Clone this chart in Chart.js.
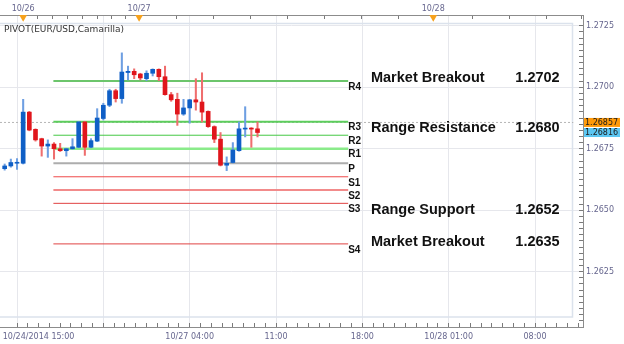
<!DOCTYPE html>
<html><head><meta charset="utf-8">
<script src="https://cdn.jsdelivr.net/npm/chart.js@4/dist/chart.umd.min.js"></script>
<style>html,body{margin:0;padding:0;background:#fff}canvas{display:block}</style>
</head><body>
<canvas id="c" width="624" height="344"></canvas>
<script>
// ---- data ----
const candleIdx = [0,1,2,3,4,5,6,7,8,9,10,11,12,13,14,15,16,17,18,19,20,21,22,23,24,25,26,27,28,29,30,31,32,33,34,35,36,37,38,39,40,41];
const opens  = [1.26669,1.26680,1.26691,1.26691,1.26899,1.26829,1.26791,1.26761,1.26769,1.26750,1.26742,1.26750,1.26756,1.26859,1.26756,1.26781,1.26873,1.26927,1.26986,1.26954,1.27060,1.27065,1.27054,1.27035,1.27057,1.27073,1.27043,1.26970,1.26951,1.26891,1.26916,1.26949,1.26940,1.26902,1.26840,1.26789,1.26683,1.26694,1.26742,1.26830,1.26834,1.26831];
const highs  = [1.26688,1.26708,1.26710,1.26951,1.26902,1.26831,1.26793,1.26786,1.26775,1.26772,1.26752,1.26791,1.26861,1.26861,1.26791,1.26913,1.26935,1.26992,1.26992,1.27140,1.27086,1.27075,1.27057,1.27067,1.27075,1.27075,1.27086,1.26979,1.26976,1.26951,1.26951,1.27035,1.27059,1.26904,1.26843,1.26816,1.26717,1.26775,1.26859,1.26921,1.26836,1.26859];
const lows   = [1.26663,1.26675,1.26666,1.26688,1.26823,1.26781,1.26720,1.26715,1.26708,1.26739,1.26720,1.26748,1.26754,1.26723,1.26754,1.26779,1.26867,1.26921,1.26940,1.26935,1.27030,1.27035,1.27030,1.27027,1.27046,1.27027,1.26968,1.26943,1.26845,1.26886,1.26854,1.26907,1.26859,1.26837,1.26775,1.26680,1.26661,1.26692,1.26740,1.26798,1.26756,1.26798];
const closes = [1.26680,1.26694,1.26694,1.26899,1.26826,1.26786,1.26761,1.26769,1.26750,1.26742,1.26750,1.26758,1.26859,1.26756,1.26783,1.26875,1.26927,1.26986,1.26954,1.27062,1.27065,1.27051,1.27038,1.27057,1.27073,1.27043,1.26970,1.26949,1.26891,1.26916,1.26949,1.26940,1.26899,1.26840,1.26789,1.26683,1.26691,1.26745,1.26831,1.26834,1.26830,1.26816];

const pivotNames  = ['R4','R3','R2','R1','P','S1','S2','S3','S4'];
const pivotLevels = [1.27026,1.26860,1.26805,1.26750,1.26691,1.26636,1.26582,1.26528,1.26363];
const pivotStart = 7.9, pivotEnd = 55.7;

const noteTexts  = ['Market Breakout','Range Resistance','Range Support','Market Breakout'];
const noteValues = ['1.2702','1.2680','1.2652','1.2635'];
const noteLevels = [1.27038,1.26836,1.26501,1.26369];
const noteStart = 59.4, noteEnd = 90.0;

const tagValues = [1.26857, 1.26816];
const tagTexts  = ['1.26857','1.26816'];
const lastPriceLine = 1.26857;

const yLabelValues = [1.2625,1.2650,1.2675,1.2700,1.2725];
const yLabelTexts  = ['1.2625','1.2650','1.2675','1.2700','1.2725'];
const bottomGridIdx   = [2,16,30,44,58,72,86];
const bottomLabelIdx  = [5.5,30,44,58,72,86];
const bottomLabelText = ['10/24/2014 15:00','10/27 04:00','11:00','18:00','10/28 01:00','08:00'];
const topTickIdx   = [3,5.4,7.8,10.2,12.6,15,17.4,19.6,21.8,27.8,33.8,39.8,45.8,51.8,57.8,63.8,69.5,75.8,81.8,87.8,93.6];
const topLabelIdx  = [3,21.8,69.5];
const topLabelText = ['10/26','10/27','10/28'];
const markerLevel = 1.27285;
const titleText = 'PIVOT(EUR/USD,Camarilla)';

// ---- styles ----
const X_MIN = -0.757, X_MAX = 93.78, Y_MIN = 1.26025, Y_MAX = 1.27294;
const UP = '#0f5fc6', DOWN = '#e0161c', UP_W = '#6e9fe2', DOWN_W = '#ef6e6e';
const GRID = '#e6e7ec', TICK = '#7a7a7a', AXIS = '#8c8c8c', LBL = '#66668e';
const pivotColors = ['#6cc56c','#5ccd5c','#45c845','#8aeb8a','#adadad','#ef4a4a','#f28b8b','#e04242','#e04242'];
const pivotWidths = [2,2,1,2.5,2,1,2,1,1];
const FONT = '"DejaVu Sans", Verdana, sans-serif';

const bodyColors = opens.map((o,i) => closes[i] >= o ? UP : DOWN);
const wickColors = opens.map((o,i) => closes[i] >= o ? UP_W : DOWN_W);
const near = (a,b) => Math.abs(a-b) < 1e-6;
const findLabel = (v, vals, texts) => { const k = vals.findIndex(t => near(t, v)); return k >= 0 ? texts[k] : ''; };

const datasets = [
  { type:'bar', data: candleIdx.map((x,i)=>({x, y:[opens[i], closes[i]]})), backgroundColor: bodyColors,
    barThickness: 4, minBarLength: 1, grouped: false, order: 0, borderWidth: 0 },
  { type:'bar', data: candleIdx.map((x,i)=>({x, y:[lows[i], highs[i]]})), backgroundColor: wickColors,
    barThickness: 1.4, grouped: false, order: 1, borderWidth: 0 },
  { type:'line', data: [{x:X_MIN, y:lastPriceLine},{x:92.2, y:lastPriceLine}], borderColor:'#b5b5b5',
    borderWidth: 1, borderDash:[2,2], pointRadius: 0, order: 3 },
  ...pivotLevels.map((lv,i) => ({ type:'line', data:[{x:pivotStart,y:lv},{x:pivotEnd,y:lv}],
    borderColor: pivotColors[i], borderWidth: pivotWidths[i], pointRadius: 0, order: 2 })),
  { type:'line', showLine:false, data: topLabelIdx.map(x => ({x, y:markerLevel})), pointStyle:'triangle',
    rotation:180, pointRadius:4.5, backgroundColor:'#f6a11c', borderWidth:0, clip:false, order:0 }
];

const overlay = {
  id:'overlay',
  beforeDatasetsDraw(chart){
    const {ctx, chartArea:a} = chart;
    ctx.save();
    ctx.strokeStyle = '#dbe2ec'; ctx.lineWidth = 1.5;
    ctx.strokeRect(a.left - 2, a.top + 8.5, (a.right - 10.5) - (a.left - 2), (a.bottom - 10) - (a.top + 8.5));
    ctx.restore();
  },
  afterDatasetsDraw(chart){
    const {ctx, chartArea:a} = chart; const xs = chart.scales.x, ys = chart.scales.y;
    ctx.save();
    ctx.fillStyle = '#111'; ctx.textBaseline = 'top'; ctx.textAlign = 'left';
    ctx.font = 'bold 10px "Liberation Sans", Arial, sans-serif';
    pivotNames.forEach((n,i) => ctx.fillText(n, xs.getPixelForValue(pivotEnd), ys.getPixelForValue(pivotLevels[i]) + 1));
    ctx.font = 'bold 14.5px "Liberation Sans", Arial, sans-serif'; ctx.textBaseline = 'middle';
    noteTexts.forEach((t,i) => {
      const py = ys.getPixelForValue(noteLevels[i]);
      ctx.textAlign = 'left'; ctx.fillText(t, xs.getPixelForValue(noteStart), py);
      ctx.textAlign = 'right'; ctx.fillText(noteValues[i], xs.getPixelForValue(noteEnd), py);
    });
    ctx.textAlign = 'left'; ctx.fillStyle = '#333'; ctx.font = '9px ' + FONT;
    ctx.fillText(titleText, a.left + 4, a.top + 15);
    ctx.restore();
  },
  afterDraw(chart){
    const {ctx, chartArea:a} = chart; const ys = chart.scales.y;
    const fills = ['#ff9a0a','#5cc6f2'];
    ctx.save(); ctx.font = '8px ' + FONT; ctx.textBaseline = 'middle'; ctx.textAlign = 'left';
    tagValues.forEach((v,i) => {
      const py = ys.getPixelForValue(v);
      ctx.fillStyle = fills[i]; ctx.fillRect(a.right + 1, py - 4.5, 36, 9);
      ctx.fillStyle = '#1a1a1a'; ctx.fillText(tagTexts[i], a.right + 2, py + 0.5);
    });
    ctx.restore();
  }
};

new Chart(document.getElementById('c'), {
  type:'bar',
  data:{ datasets },
  plugins:[overlay],
  options:{
    responsive:false, animation:false, devicePixelRatio:1, events:[],
    layout:{ padding:0, autoPadding:false },
    plugins:{ legend:{display:false}, tooltip:{enabled:false} },
    scales:{
      x:{ type:'linear', position:'bottom', min:X_MIN, max:X_MAX, offset:false,
        afterBuildTicks: s => { const t=[]; for (let k=0; 2+1.75*k <= X_MAX; k++) t.push({value: 2+1.75*k}); s.ticks = t; },
        afterFit: s => { s.height = 17; s.paddingLeft = 0; s.paddingRight = 0; },
        grid:{ offset:false, color: c => (c.tick && bottomGridIdx.some(g => near(g, c.tick.value))) ? GRID : 'rgba(0,0,0,0)',
               tickColor: TICK, tickLength: -4 },
        border:{ color: AXIS, width:1 },
        ticks:{ autoSkip:false, maxRotation:0, minRotation:0, padding:9, color:LBL, font:{family:FONT, size:8},
                callback: v => findLabel(v, bottomLabelIdx, bottomLabelText) } },
      xTop:{ type:'linear', position:'top', min:X_MIN, max:X_MAX, offset:false,
        afterBuildTicks: s => { s.ticks = topTickIdx.map(v => ({value:v})); },
        afterFit: s => { s.height = 15; s.paddingLeft = 0; s.paddingRight = 0; },
        grid:{ offset:false, drawOnChartArea:false, tickColor: TICK, tickLength: -4 },
        border:{ color: AXIS, width:1 },
        ticks:{ autoSkip:false, maxRotation:0, minRotation:0, padding:5, color:LBL, font:{family:FONT, size:8},
                callback: v => findLabel(v, topLabelIdx, topLabelText) } },
      y:{ type:'linear', position:'right', min:Y_MIN, max:Y_MAX, beginAtZero:false,
        afterBuildTicks: s => { const t=[]; for (let k=0; k<=48; k++) t.push({value: +(1.2605 + 0.00025*k).toFixed(5)}); s.ticks = t; },
        afterFit: s => { s.width = 41; s.paddingTop = 0; s.paddingBottom = 0; },
        grid:{ color: c => (c.tick && yLabelValues.some(g => near(g, c.tick.value))) ? GRID : 'rgba(0,0,0,0)',
               tickColor: TICK, tickLength: -4 },
        border:{ color: AXIS, width:1 },
        ticks:{ autoSkip:false, padding:7, color:LBL, font:{family:FONT, size:8},
                callback: v => findLabel(v, yLabelValues, yLabelTexts) } }
    }
  }
});
</script>
</body></html>
